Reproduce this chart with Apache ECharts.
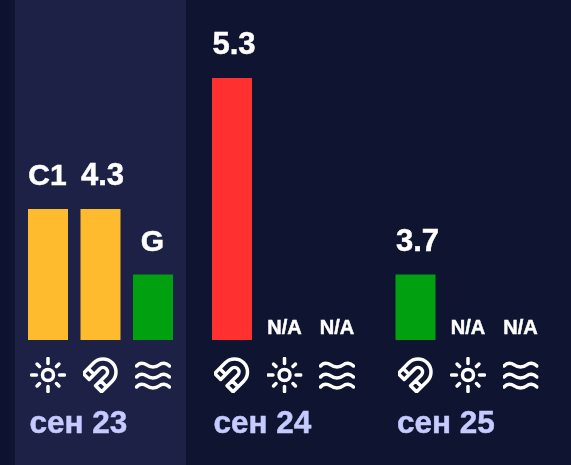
<!DOCTYPE html>
<html><head><meta charset="utf-8">
<style>html,body{margin:0;padding:0;background:#0f1430}#c{width:571px;height:465px}</style>
<script src="https://cdn.jsdelivr.net/npm/echarts@6/dist/echarts.min.js"></script></head>
<body><div id="c"></div>
<script>
const days = ['сен 23','сен 24','сен 25'];
const iconKinds = [['sun','magnet','waves'],['magnet','sun','waves'],['magnet','sun','waves']];
const levels = [[2,2,1],[4,0,0],[1,0,0]];
const labels = [['C1','4.3','G'],['5.3','N/A','N/A'],['3.7','N/A','N/A']];
const colors = {0:'#00a010',1:'#00a010',2:'#ffbb2e',3:'#ff8a2e',4:'#ff3030'};
const gridLefts = [21.75,205.75,389.25];
const sunRays = [0,90,180,270].map(a=>`<line x1="0" y1="-11.5" x2="0" y2="-16.5" transform="rotate(${a})"/>`).join('')
 + [45,135,225,315].map(a=>`<line x1="0" y1="-12" x2="0" y2="-15.5" transform="rotate(${a})"/>`).join('');
const wave = y => `<path d="M1.5 ${y+1} C4.5 ${y-2.5} 8 ${y-2.5} 12 ${y} C15 ${y+2.5} 21 ${y+2.5} 24 ${y} C27 ${y-2.5} 31 ${y-2.5} 34.5 ${y+1}"/>`;
const svgs = {
 sun:`<g transform="translate(18,18)"><circle r="5.5"/>${sunRays}</g>`,
 magnet:`<g transform="translate(20.5,15) rotate(45)"><path d="M-13,15 V0 A13,13 0 0 1 13,0 V15 H4.5 V0 A4.5,4.5 0 0 0 -4.5,0 V15 Z M-13,8 H-4.5 M4.5,8 H13"/></g>`,
 waves:wave(8)+wave(19)+wave(29)
};
const uri = k => 'data:image/svg+xml;charset=utf-8,' + encodeURIComponent(
 `<svg xmlns="http://www.w3.org/2000/svg" width="36" height="36" viewBox="0 0 36 36"><g fill="none" stroke="#ffffff" stroke-width="3.5" stroke-linecap="round" stroke-linejoin="round">${svgs[k]}</g></svg>`);
const rich = {};
Object.keys(svgs).forEach(k=>{rich[k]={width:36,height:36,backgroundColor:{image:uri(k)}};});

const grids=[],xAxes=[],yAxes=[],series=[],graphic=[
 {type:'rect',z:-1,silent:true,shape:{x:0,y:0,width:9,height:465},style:{fill:'#0d1231'}},
 {type:'rect',z:-1,silent:true,shape:{x:15,y:0,width:171,height:465},style:{fill:'#1c2145'}}
];
days.forEach((d,i)=>{
 grids.push({left:gridLefts[i],width:157.5,top:78,height:262});
 xAxes.push({type:'category',gridIndex:i,data:iconKinds[i],axisLine:{show:false},axisTick:{show:false},
   axisLabel:{interval:0,margin:17,formatter:v=>`{${v}|}`,rich}});
 yAxes.push({type:'value',gridIndex:i,min:0,max:4,show:false,splitLine:{show:false}});
 series.push({type:'bar',xAxisIndex:i,yAxisIndex:i,barWidth:40,animation:false,
   data:levels[i].map((v,j)=>{
     const t=labels[i][j], na=t==='N/A', num=!isNaN(parseFloat(t));
     return {value:v,itemStyle:{color:colors[v]},
       label:{show:true,position:'top',formatter:t,color:'#ffffff',offset:[num?2:(na?0:-0.5),0],
         textBorderColor:'#ffffff',textBorderWidth:0.5,
         fontFamily:'Liberation Sans',fontWeight:'bold',fontSize:na?20:(num?31:30),distance:na?2:17}};
   })});
 graphic.push({type:'text',left:gridLefts[i]+7.5,top:408,silent:true,
   style:{text:d,fill:'#c5caff',stroke:'#c5caff',lineWidth:0.5,font:'bold 31.5px "Liberation Sans"'}});
});
const chart=echarts.init(document.getElementById('c'),null,{renderer:'canvas'});
chart.setOption({animation:false,backgroundColor:'#0f1430',grid:grids,xAxis:xAxes,yAxis:yAxes,series,graphic});
</script></body></html>
